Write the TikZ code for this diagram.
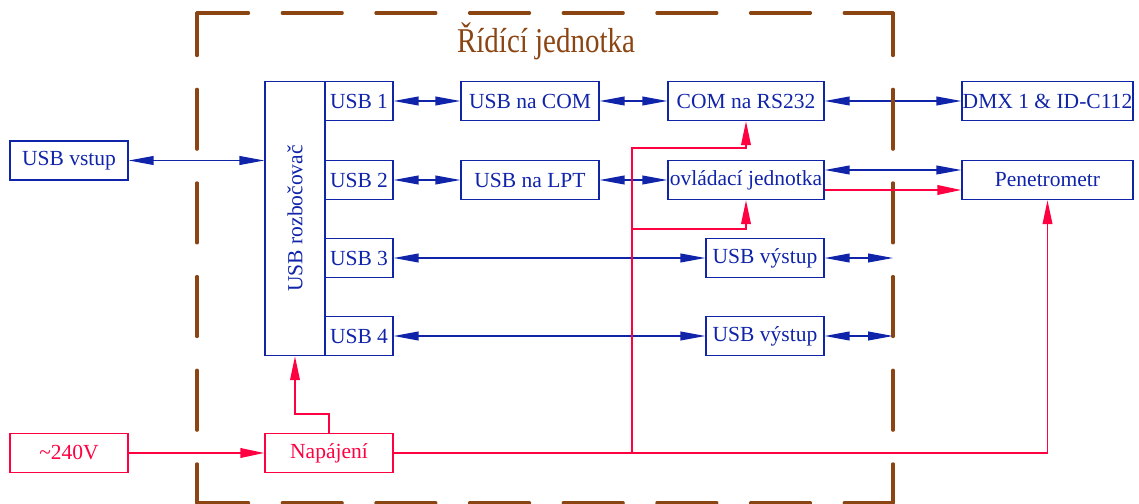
\documentclass[tikz,border=0pt]{standalone}
\usepackage{fontspec}
\setmainfont{Liberation Serif}
\usetikzlibrary{arrows.meta}
\definecolor{modra}{RGB}{16,36,170}
\definecolor{cervena}{RGB}{255,0,64}
\definecolor{hneda}{RGB}{139,69,19}
\begin{document}
\begin{tikzpicture}[x=0.025cm,y=-0.025cm,
	blok/.style={draw=modra,text=modra,line width=1pt,inner sep=0pt,minimum height=0.975cm,font=\fontsize{15.3}{18}\selectfont},
	blokc/.style={blok,draw=cervena,text=cervena},
	obe/.style={modra,line width=0.9pt,{Triangle[length=0.62cm,width=0.22cm]}-{Triangle[length=0.62cm,width=0.22cm]}},
	napeti/.style={cervena,line width=1.3pt,-{Triangle[length=0.6cm,width=0.24cm]}},
	ramec/.style={hneda,line width=2.2pt,line cap=round,dash pattern=on 42.7pt off 23.9pt}]
	\useasboundingbox (0,0) rectangle (1139,504);
	\node[text=hneda,font=\fontsize{20.6}{24}\selectfont] (nazev) at (546,41) {\scalebox{1}[1.2]{Řídící jednotka}};
	% bloky
	\node[blok,minimum width=2.95cm] (vstup) at (69,160.5) {USB vstup};
	\node[blok,minimum width=1.5cm,minimum height=6.85cm] (hub) at (295,218.5) {};
	\node[rotate=90,text=modra,font=\fontsize{15.3}{18}\selectfont] (hubtext) at (hub) {USB rozbočovač};
	\foreach \n/\y in {1/101,2/180,3/258,4/336}
		\node[blok,minimum width=1.7cm] (usb\n) at (359,\y) {USB \n};
	\node[blok,minimum width=3.45cm] (naCOM) at (530,101) {USB na COM};
	\node[blok,minimum width=3.45cm] (naLPT) at (530,180) {USB na LPT};
	\node[blok,minimum width=3.9cm] (rs232) at (746,101) {COM na RS232};
	\node[blok,minimum width=3.9cm] (ovl) at (746,180) {ovládací jednotka};
	\node[blok,minimum width=2.95cm] (vystupA) at (765,258) {USB výstup};
	\node[blok,minimum width=2.95cm] (vystupB) at (765,336) {USB výstup};
	\node[blok,minimum width=4.275cm] (dmx) at (1047.5,101) {DMX 1 \& ID-C112};
	\node[blok,minimum width=4.275cm] (pen) at (1047.5,180) {Penetrometr};
	\node[blokc,minimum width=2.95cm] (sit) at (69,453) {\textasciitilde240V};
	\node[blokc,minimum width=3.2cm] (napajeni) at (329,453) {Napájení};
	% datove spoje
	\coordinate (vyvodA) at (893,258);
	\coordinate (vyvodB) at (893,336);
	\draw[obe] (vstup.east) -- (vstup.east -| hub.west);
	\draw[obe] (usb1.east) -- (naCOM.west);
	\draw[obe] (naCOM.east) -- (rs232.west);
	\draw[obe] (rs232.east) -- (dmx.west);
	\draw[obe] (usb2.east) -- (naLPT.west);
	\draw[obe] (naLPT.east) -- (ovl.west);
	\draw[obe] ([yshift=0.25cm]ovl.east) -- ([yshift=0.25cm]pen.west);
	\draw[obe] (usb3.east) -- (vystupA.west);
	\draw[obe] (usb4.east) -- (vystupB.west);
	\draw[obe] (vystupA.east) -- (vyvodA);
	\draw[obe] (vystupB.east) -- (vyvodB);
	% ramecek ridici jednotky
	\draw[ramec,dash phase=6pt] (197,13) -- (893,13);
	\draw[ramec,dash phase=6pt] (197,503) -- (893,503);
	\draw[ramec,dash phase=12.4pt] (197,13) -- (197,503);
	\draw[ramec,dash phase=12.4pt] (893,13) -- (893,503);
	% napajeni
	\coordinate (odbocka) at (632,453);
	\coordinate (vetevA) at (632,148);
	\coordinate (vetevB) at (632,229);
	\draw[napeti] (sit.east) -- (napajeni.west);
	\draw[napeti] (napajeni.north) -- ++(0,-19) -| (hub.south);
	\draw[napeti] (napajeni.east) -| (pen.south);
	\draw[napeti] (odbocka) -- (vetevA) -| (rs232.south);
	\draw[napeti] (vetevB) -| (ovl.south);
	\draw[napeti] ([yshift=-0.25cm]ovl.east) -- ([yshift=-0.25cm]pen.west);
\end{tikzpicture}
\end{document}
